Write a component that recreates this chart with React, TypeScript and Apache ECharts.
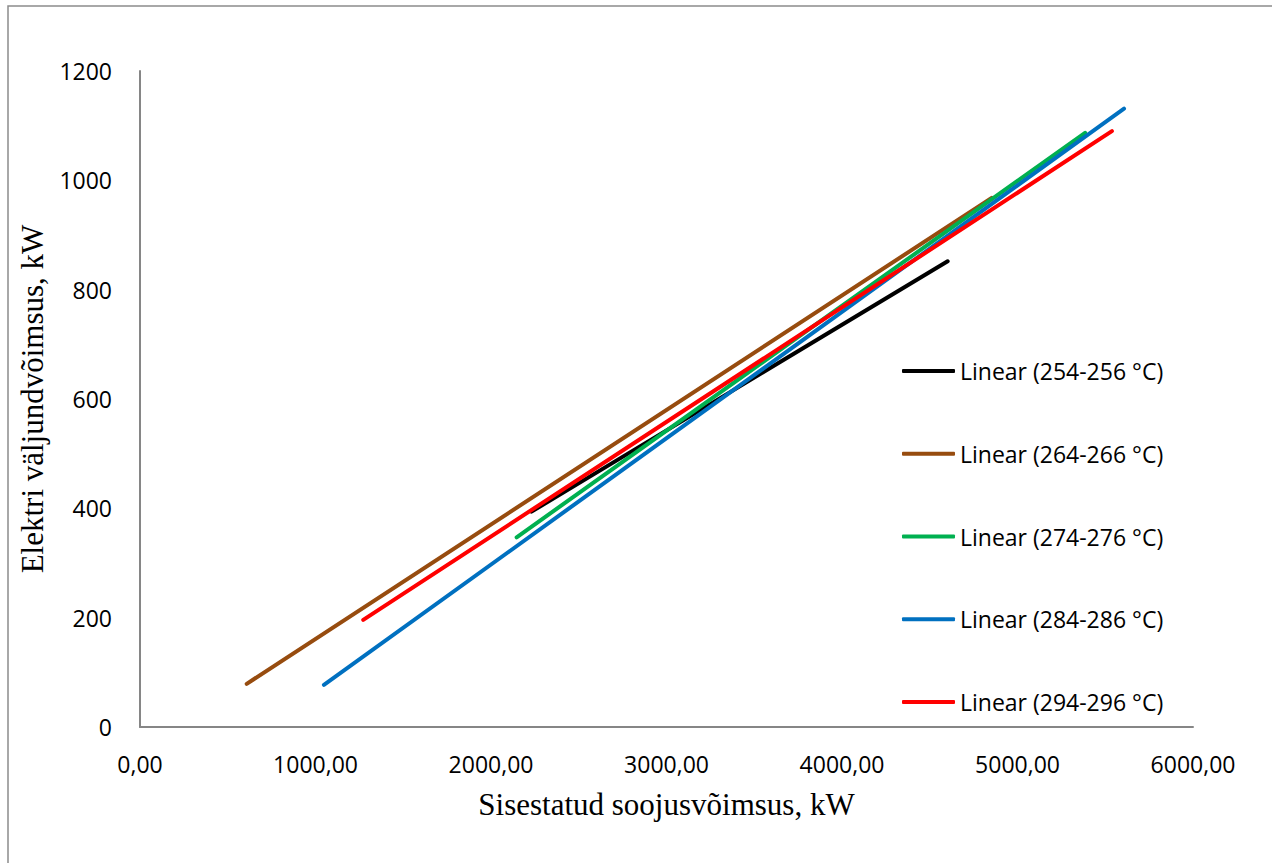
import React, { useEffect, useRef } from "react";
import * as echarts from "echarts";

const seriesNames = [
  "Linear (254-256 °C)",
  "Linear (264-266 °C)",
  "Linear (274-276 °C)",
  "Linear (284-286 °C)",
  "Linear (294-296 °C)",
];
const seriesColors = ["#000000", "#974C0F", "#00B050", "#0070C0", "#FF0000"];
// Trend line endpoints [x, y]
const line254: number[][] = [[2231, 394], [4602, 852]];
const line264: number[][] = [[608, 79], [4853, 968]];
const line274: number[][] = [[2146, 347], [5385, 1087]];
const line284: number[][] = [[1048, 77], [5607, 1131]];
const line294: number[][] = [[1272, 196], [5538, 1090]];
const seriesData = [line254, line264, line274, line284, line294];

const xTicks = { min: 0, max: 6000, interval: 1000 };
const yTicks = { min: 0, max: 1200, interval: 200 };

export default function App() {
  const ref = useRef<HTMLDivElement>(null);
  useEffect(() => {
    if (!ref.current) return;
    const chart = echarts.init(ref.current, null, { renderer: "svg" });
    const labelFont = "'Open Sans', 'Noto Sans', sans-serif";
    const serif = "'Liberation Serif', 'DejaVu Serif', serif";
    chart.setOption({
      animation: false,
      backgroundColor: "#ffffff",
      graphic: [
        {
          type: "rect",
          shape: { x: 8, y: 6, width: 1400, height: 1000 },
          style: { fill: "none", stroke: "#8c8c8c", lineWidth: 1.5 },
          silent: true,
        },
      ],
      grid: { left: 140, top: 71, width: 1053, height: 656, containLabel: false },
      xAxis: {
        type: "value",
        min: xTicks.min,
        max: xTicks.max,
        interval: xTicks.interval,
        name: "Sisestatud soojusvõimsus, kW",
        nameLocation: "middle",
        nameGap: 62,
        nameTextStyle: { fontFamily: serif, fontSize: 31, color: "#000" },
        axisLine: { show: true, lineStyle: { color: "#868686", width: 2 } },
        axisTick: { show: false },
        splitLine: { show: false },
        axisLabel: {
          color: "#000",
          fontFamily: labelFont,
          fontSize: 23,
          margin: 25,
          formatter: (v: number) => v.toFixed(2).replace(".", ","),
        },
      },
      yAxis: {
        type: "value",
        min: yTicks.min,
        max: yTicks.max,
        interval: yTicks.interval,
        name: "Elektri väljundvõimsus, kW",
        nameLocation: "middle",
        nameGap: 86,
        nameTextStyle: { fontFamily: serif, fontSize: 31, color: "#000" },
        axisLine: { show: true, lineStyle: { color: "#868686", width: 2 } },
        axisTick: { show: false },
        splitLine: { show: false },
        axisLabel: {
          color: "#000",
          fontFamily: labelFont,
          fontSize: 23,
          margin: 28,
          formatter: (v: number) => String(v),
        },
      },
      legend: {
        orient: "vertical",
        left: 897,
        top: 353,
        itemWidth: 53,
        itemHeight: 4,
        itemGap: 56.75,
        icon: "roundRect",
        textStyle: { color: "#000", fontFamily: labelFont, fontSize: 23, lineHeight: 26, padding: [0, 0, 0, 0] },
        data: seriesNames,
      },
      series: seriesNames.map((name, i) => ({
        name,
        type: "line",
        data: seriesData[i],
        symbol: "none",
        color: seriesColors[i],
        lineStyle: { color: seriesColors[i], width: 4, cap: "round" },
        z: 2 + i,
      })),
    });
    return () => chart.dispose();
  }, []);
  return (
    <div
      ref={ref}
      style={{ position: "fixed", left: 0, top: 0, width: 1272, height: 863 }}
    />
  );
}
